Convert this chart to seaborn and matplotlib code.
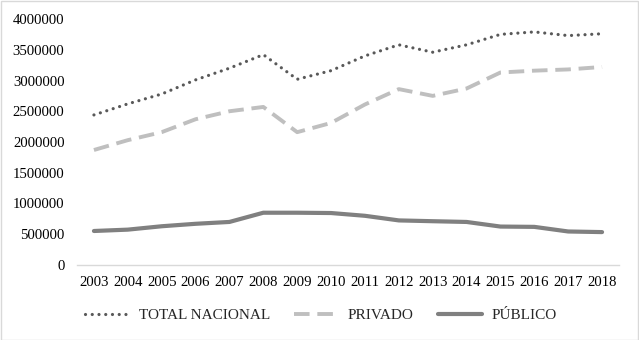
import matplotlib
matplotlib.use("Agg")
import matplotlib.pyplot as plt
import seaborn as sns
import pandas as pd
from matplotlib.patches import Rectangle

years = [2003, 2004, 2005, 2006, 2007, 2008, 2009, 2010, 2011, 2012, 2013, 2014, 2015, 2016, 2017, 2018]
total_nacional = [2440000, 2620000, 2780000, 3010000, 3200000, 3420000, 3020000, 3160000, 3400000, 3580000, 3460000, 3580000, 3750000, 3790000, 3730000, 3760000]
privado = [1870000, 2030000, 2160000, 2370000, 2500000, 2570000, 2160000, 2310000, 2610000, 2860000, 2750000, 2870000, 3130000, 3160000, 3180000, 3220000]
publico = [553000, 575000, 630000, 670000, 700000, 850000, 850000, 845000, 800000, 725000, 712000, 700000, 625000, 620000, 545000, 535000]
series_names = ["TOTAL NACIONAL", "PRIVADO", "PÚBLICO"]
y_ticks = [0, 500000, 1000000, 1500000, 2000000, 2500000, 3000000, 3500000, 4000000]

df = pd.DataFrame({
    "year": years * 3,
    "value": total_nacional + privado + publico,
    "serie": [series_names[0]] * len(years) + [series_names[1]] * len(years) + [series_names[2]] * len(years),
})

sns.set_theme(style="white")
plt.rcParams["font.family"] = ["Liberation Serif", "DejaVu Serif"]

fig = plt.figure(figsize=(6.39, 3.40), dpi=100)
ax = fig.add_axes([77/639, 1-265/340, (619-77)/639, (265-19)/340])

styles = {
    series_names[0]: dict(color="#595959", lw=2.3, dashes=(0.01, 2.1), dash_capstyle="round"),
    series_names[1]: dict(color="#BFBFBF", lw=2.8, dashes=(4, 2.0), dash_capstyle="butt"),
    series_names[2]: dict(color="#808080", lw=3.0),
}
for name in series_names:
    sub = df[df["serie"] == name]
    st = styles[name]
    sns.lineplot(data=sub, x="year", y="value", ax=ax, label=name, color=st["color"], lw=st["lw"])
    ln = ax.get_lines()[-1]
    if "dashes" in st:
        ln.set_dashes(st["dashes"])
        ln.set_dash_capstyle(st["dash_capstyle"])
    ln.set_solid_capstyle("round")

ax.set_xlim(2002.5, 2018.5)
ax.set_ylim(0, 4000000)
ax.set_xticks(years)
ax.set_xticklabels([str(y) for y in years])
ax.set_yticks(y_ticks)
ax.set_yticklabels([str(v) for v in y_ticks])
ax.set_xlabel("")
ax.set_ylabel("")
for s in ["top", "right", "left"]:
    ax.spines[s].set_visible(False)
ax.spines["bottom"].set_color("#D9D9D9")
ax.spines["bottom"].set_linewidth(1.0)
ax.tick_params(axis="y", length=0, pad=9, labelsize=10.6, colors="#000000")
ax.tick_params(axis="x", length=0, pad=8, labelsize=10.6, colors="#000000")
ax.grid(False)

handles, labels = ax.get_legend_handles_labels()
ax.get_legend().remove()
fig.legend(handles, labels, loc="center", bbox_to_anchor=(321/639, 1-315/340),
           ncol=3, frameon=False, fontsize=11, handlelength=2.9,
           handletextpad=0.6, columnspacing=1.6)

fig.patches.append(Rectangle((0.001, 0.001), 0.997, 0.996, transform=fig.transFigure,
                             fill=False, edgecolor="#D9D9D9", lw=1.0))

fig.savefig("out.png", dpi=100, facecolor="white")
